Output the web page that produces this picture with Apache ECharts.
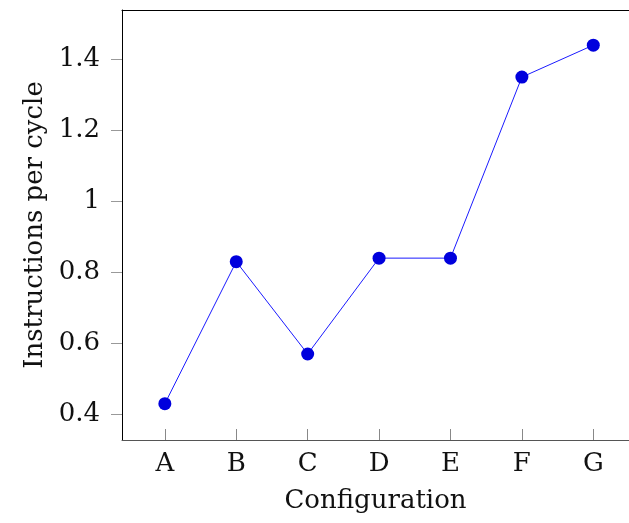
<!DOCTYPE html>
<html>
<head>
<meta charset="utf-8">
<script src="https://cdn.jsdelivr.net/npm/echarts@6/dist/echarts.min.js"></script>
<style>
  html, body { margin: 0; padding: 0; background: #fff; }
  #chart { width: 629px; height: 523px; }
</style>
</head>
<body>
<div id="chart"></div>
<script>
// configurations on the x axis, IPC values on the y axis
const categories = ['A', 'B', 'C', 'D', 'E', 'F', 'G'];
const ipcValues = [0.43, 0.83, 0.57, 0.84, 0.84, 1.35, 1.44];
const yTicks = [0.4, 0.6, 0.8, 1.0, 1.2, 1.4];

const FONT = '"DejaVu Serif", serif';
const xIdx = categories.map((c, i) => i);

const chart = echarts.init(document.getElementById('chart'));
chart.setOption({
  animation: false,
  grid: { left: 122, right: -4, top: 10, bottom: 83 },
  xAxis: [{
    type: 'value',
    min: -0.6,
    max: 6.5,
    name: 'Configuration',
    nameLocation: 'middle',
    nameGap: 48,
    nameTextStyle: { fontFamily: FONT, fontSize: 26, color: '#111' },
    axisLine: { onZero: false, lineStyle: { color: '#555', width: 1 } },
    axisTick: { inside: true, length: 11, lineStyle: { color: '#888' }, customValues: xIdx },
    axisLabel: {
      customValues: xIdx,
      margin: 11,
      fontFamily: FONT, fontSize: 26, color: '#111',
      formatter: v => categories[v]
    },
    splitLine: { show: false }
  }, {
    type: 'value',
    position: 'top',
    min: -0.6,
    max: 6.5,
    axisLine: { show: true, onZero: false, lineStyle: { color: '#000', width: 1 } },
    axisTick: { show: false },
    axisLabel: { show: false },
    splitLine: { show: false }
  }],
  yAxis: {
    type: 'value',
    min: 0.3277,
    max: 1.539,
    name: 'Instructions per cycle',
    nameLocation: 'middle',
    nameGap: 63,
    nameTextStyle: { fontFamily: FONT, fontSize: 26, color: '#111' },
    axisLine: { show: true, onZero: false, lineStyle: { color: '#000', width: 1 } },
    axisTick: { show: true, length: 11, lineStyle: { color: '#999' }, customValues: yTicks },
    axisLabel: {
      customValues: yTicks,
      margin: 22,
      fontFamily: FONT, fontSize: 26, color: '#111',
      formatter: v => String(+v.toFixed(1))
    },
    splitLine: { show: false }
  },
  series: [{
    type: 'line',
    data: ipcValues.map((v, i) => [i, v]),
    symbol: 'circle',
    symbolSize: 13,
    lineStyle: { color: '#1a1aff', width: 1 },
    itemStyle: { color: '#0000dd' }
  }]
});
</script>
</body>
</html>
